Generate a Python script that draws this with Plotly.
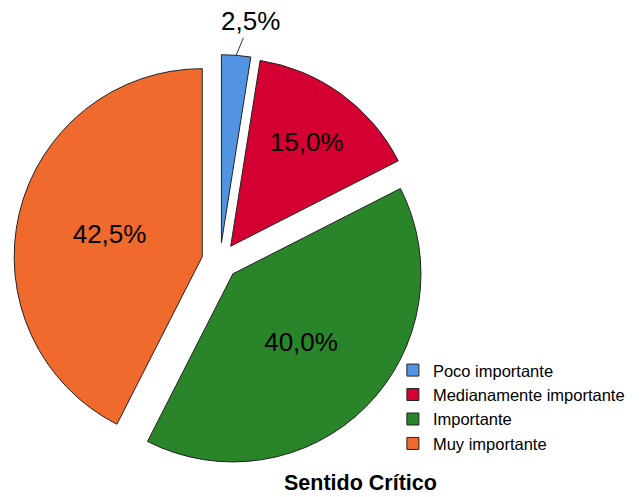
import math
import plotly.graph_objects as go

categories = ["Poco importante", "Medianamente importante", "Importante", "Muy importante"]
percentages = [2.5, 15.0, 40.0, 42.5]
colors = ["#5294E2", "#D50032", "#2A852A", "#F0692D"]
label_positions = ["none", "inside", "inside", "inside"]
chart_title = "Sentido Crítico"

labels_text = [f"{v:.1f}%".replace(".", ",") for v in percentages]

W, H = 642, 497
dom_x = [0.0213, 0.664]
dom_y = [0.0598, 0.890]
pull = 0.097
font_family = "Liberation Sans, Arial"

fig = go.Figure(
    go.Pie(
        labels=categories,
        values=percentages,
        text=labels_text,
        textinfo="text",
        textposition=label_positions,
        insidetextorientation="horizontal",
        textfont=dict(family=font_family, size=26, color="black"),
        marker=dict(colors=colors, line=dict(color="#222222", width=1)),
        sort=False,
        direction="clockwise",
        rotation=0,
        pull=[pull] * len(percentages),
        hoverinfo="label+percent",
        domain=dict(x=dom_x, y=dom_y),
    )
)

# outside label (with leader line) for the small first slice, placed from the pie geometry
box = min((dom_x[1] - dom_x[0]) * W, (dom_y[1] - dom_y[0]) * H)
r = box / 2 / (1 + pull)
cx = W * (dom_x[0] + dom_x[1]) / 2
cy = H * (1 - dom_y[0]) - box / 2
total = sum(percentages)
mid = math.radians(360 * (percentages[0] / 2) / total)
tip_x = cx + r * (1 + pull) * math.sin(mid)
tip_y = cy - r * (1 + pull) * math.cos(mid)

fig.update_layout(
    width=W,
    height=H,
    margin=dict(l=0, r=0, t=0, b=0, autoexpand=False),
    paper_bgcolor="white",
    plot_bgcolor="white",
    font=dict(family=font_family, color="black"),
    showlegend=True,
    legend=dict(
        x=0.612,
        y=0.29,
        xanchor="left",
        yanchor="top",
        font=dict(size=16.5, color="black"),
        bgcolor="rgba(0,0,0,0)",
        traceorder="normal",
    ),
    annotations=[
        dict(
            text=labels_text[0],
            x=tip_x / W,
            y=1 - tip_y / H,
            xref="paper",
            yref="paper",
            showarrow=True,
            arrowhead=0,
            arrowwidth=1,
            arrowcolor="#333333",
            ax=14,
            ay=-34,
            font=dict(size=26, color="black"),
        ),
        dict(
            text=f"<b>{chart_title}</b>",
            x=0.561,
            y=0.0,
            xref="paper",
            yref="paper",
            xanchor="center",
            yanchor="bottom",
            showarrow=False,
            font=dict(size=21.5, color="black"),
        ),
    ],
)

fig.write_html(
    "out.html",
    config={"displayModeBar": False},
    post_script="document.body.style.margin='0px';document.body.style.padding='0px';",
)
